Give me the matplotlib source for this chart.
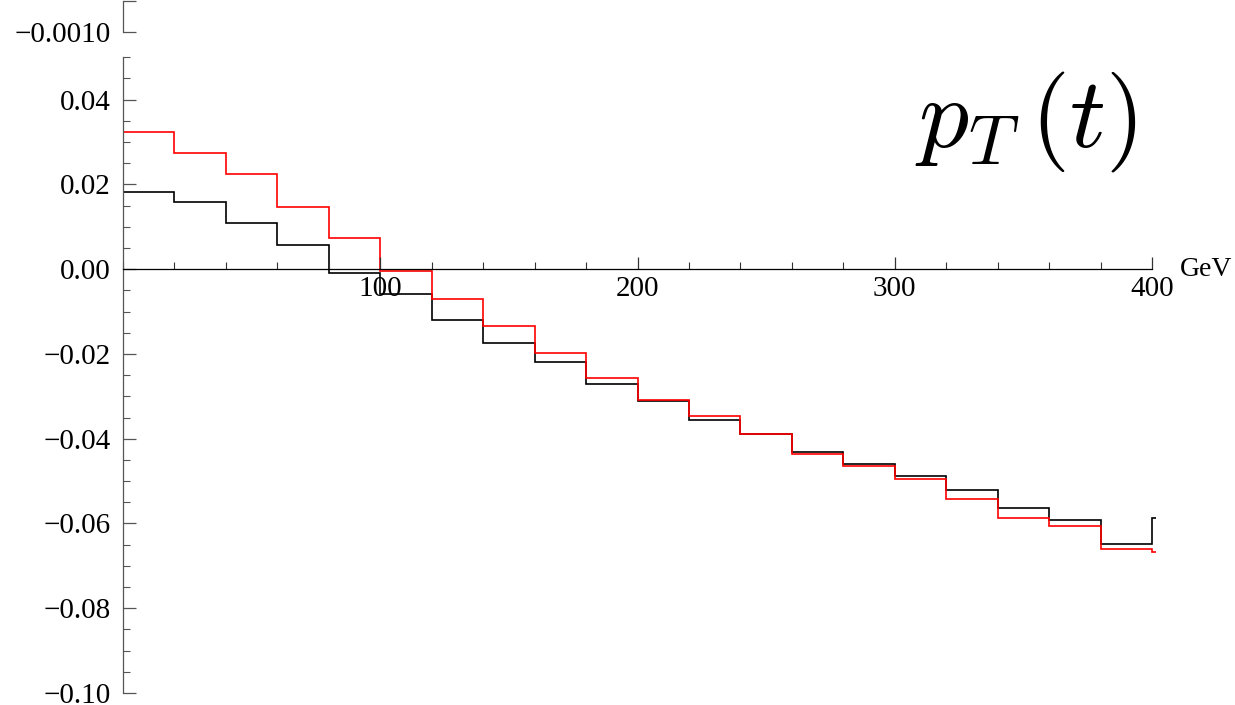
import matplotlib
matplotlib.use("Agg")
import matplotlib.pyplot as plt
from matplotlib.ticker import FuncFormatter, MultipleLocator
from matplotlib.transforms import blended_transform_factory
import numpy as np

# bin edges in GeV (20 GeV bins) and the two histograms
edges = np.arange(0, 420, 20)
black_vals = [0.0181, 0.0159, 0.0108, 0.0057, -0.0008, -0.0059, -0.0119, -0.0174,
              -0.0220, -0.0270, -0.0311, -0.0357, -0.0388, -0.0431, -0.0460, -0.0488,
              -0.0521, -0.0564, -0.0592, -0.0648]
red_vals = [0.0324, 0.0274, 0.0224, 0.0146, 0.0074, -0.0005, -0.0071, -0.0135,
            -0.0198, -0.0256, -0.0309, -0.0346, -0.0390, -0.0437, -0.0465, -0.0495,
            -0.0543, -0.0587, -0.0607, -0.0660]
# first value of the next (cut-off) bin past 400 GeV
black_tail = -0.0586
red_tail = -0.0668

plt.rcParams['font.family'] = ['Liberation Serif', 'DejaVu Serif']
plt.rcParams['mathtext.fontset'] = 'cm'

W, H = 1235, 705
fig = plt.figure(figsize=(W / 100, H / 100), dpi=100)

left, right = 123 / W, 1152 / W
bottom, top = (H - 693) / H, (H - 57.3) / H
ax = fig.add_axes([left, bottom, right - left, top - bottom])

x_ext = np.append(edges, edges[-1] + 1.5)
ax.stairs(black_vals + [black_tail], x_ext, baseline=None, color='black', lw=1.2, clip_on=False)
ax.stairs(red_vals + [red_tail], x_ext, baseline=None, color='#ff0000', lw=1.2, clip_on=False)

ax.set_xlim(0, 400)
ax.set_ylim(-0.10, 0.05)

for s in ['top', 'right']:
    ax.spines[s].set_visible(False)
ax.spines['bottom'].set_position(('data', 0))
ax.spines['bottom'].set_color('black')
ax.spines['left'].set_color('#555555')
ax.spines['bottom'].set_linewidth(0.9)
ax.spines['left'].set_linewidth(0.9)

ax.set_xticks([100, 200, 300, 400])
ax.xaxis.set_minor_locator(MultipleLocator(20))
ax.set_yticks(np.arange(-0.10, 0.041, 0.02))
ax.yaxis.set_minor_locator(MultipleLocator(0.005))


def fmt(v, pos):
    s = f"{v:.2f}"
    if s == "-0.00":
        s = "0.00"
    return s.replace('-', '\u2212')


ax.yaxis.set_major_formatter(FuncFormatter(fmt))
ax.tick_params(axis='x', which='major', direction='in', length=9, width=0.9,
               labelsize=21, pad=5, color='#333333')
ax.tick_params(axis='x', which='minor', direction='in', length=5, width=0.8, color='#333333')
ax.tick_params(axis='y', which='major', direction='in', length=9, width=0.9,
               labelsize=21, pad=9, color='#555555')
ax.tick_params(axis='y', which='minor', direction='in', length=5, width=0.8, color='#555555')

gev_tr = blended_transform_factory(fig.transFigure, ax.transData)
ax.text(1180 / W, 0, 'GeV', transform=gev_tr, ha='left', va='center', fontsize=20)

fig.text(1137 / W, (H - 147) / H, r'$p_T\,(t)$', ha='right', va='baseline', fontsize=72)

# small upper piece of the broken axis
ax2 = fig.add_axes([left, (H - 32) / H, 0.02, 31 / H])
ax2.set_ylim(-0.0010, -0.0008)
ax2.set_xlim(0, 1)
for s in ['top', 'right', 'bottom']:
    ax2.spines[s].set_visible(False)
ax2.spines['left'].set_color('#555555')
ax2.spines['left'].set_linewidth(0.9)
ax2.set_xticks([])
ax2.set_yticks([-0.0010, -0.0008], labels=['\u22120.0010', ''])
ax2.tick_params(axis='y', direction='in', length=9, width=0.9, labelsize=21, pad=9, color='#555555')
ax2.patch.set_visible(False)

fig.savefig('out.png', dpi=100)
